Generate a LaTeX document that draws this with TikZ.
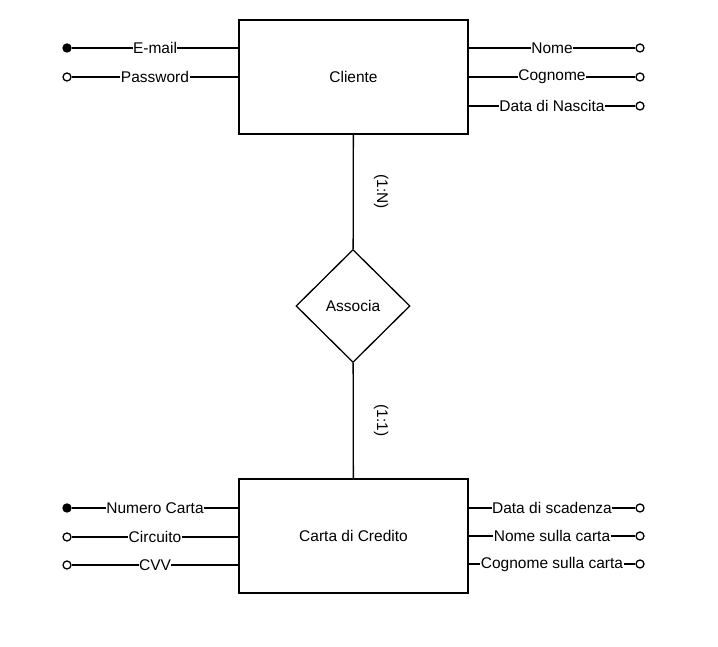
\documentclass[tikz,border=0pt]{standalone}
\usepackage{fontspec}
\setmainfont{Liberation Sans}
\usetikzlibrary{shapes.geometric}
\begin{document}
\begin{tikzpicture}[x=1pt,y=1pt,
  txt/.style={font=\fontsize{15.5}{18}\selectfont},
  entity/.style={txt,draw,line width=1.3pt,minimum width=229pt,minimum height=114pt,inner sep=0pt},
  relation/.style={txt,draw,diamond,line width=1.3pt,minimum width=114pt,minimum height=113pt,inner sep=0pt},
  keyattr/.style={circle,draw,fill=black,line width=1.3pt,minimum size=8pt,inner sep=0pt},
  attr/.style={circle,draw,fill=white,line width=1.3pt,minimum size=8pt,inner sep=0pt},
  conn/.style={line width=1.3pt},
  lbl/.style={txt,fill=white,inner sep=0.5pt},
  card/.style={txt,rotate=-90,inner sep=0pt}]
\useasboundingbox (0,0) rectangle (718,647);
% entities
\node[entity] (cliente) at (353.5,570) {Cliente};
\node[relation] (associa) at (353,341) {Associa};
\node[entity] (carta) at (353.5,111) {Carta di Credito};
\draw[conn] (cliente) -- coordinate[pos=0.5] (m1) (associa);
\draw[conn] (associa) -- coordinate[pos=0.5] (m2) (carta);
\node[card] (c1) at ([xshift=28pt]m1) {(1:N)};
\node[card] (c2) at ([xshift=28pt]m2) {(1:1)};
% Cliente attributes
\node[keyattr] (email) at (67,599) {};
\node[attr] (pwd) at (67,570) {};
\node[attr] (nome) at (640,599) {};
\node[attr] (cognome) at (640,570) {};
\node[attr] (nascita) at (640,541) {};
\draw[conn] (cliente.west |- email) -- node[lbl] {E-mail} (email);
\draw[conn] (cliente.west |- pwd) -- node[lbl] {Password} (pwd);
\draw[conn] (cliente.east |- nome) -- node[lbl] {Nome} (nome);
\draw[conn] (cliente.east |- cognome) -- node[lbl] {Cognome} (cognome);
\draw[conn] (cliente.east |- nascita) -- node[lbl] {Data di Nascita} (nascita);
% Carta attributes
\node[keyattr] (numero) at (67,139) {};
\node[attr] (circuito) at (67,110) {};
\node[attr] (cvv) at (67,82) {};
\node[attr] (scad) at (640,139) {};
\node[attr] (nomec) at (640,111) {};
\node[attr] (cognomec) at (640,83) {};
\draw[conn] (carta.west |- numero) -- node[lbl] {Numero Carta} (numero);
\draw[conn] (carta.west |- circuito) -- node[lbl] {Circuito} (circuito);
\draw[conn] (carta.west |- cvv) -- node[lbl] {CVV} (cvv);
\draw[conn] (carta.east |- scad) -- node[lbl] {Data di scadenza} (scad);
\draw[conn] (carta.east |- nomec) -- node[lbl] {Nome sulla carta} (nomec);
\draw[conn] (carta.east |- cognomec) -- node[lbl] {Cognome sulla carta} (cognomec);
\end{tikzpicture}
\end{document}
